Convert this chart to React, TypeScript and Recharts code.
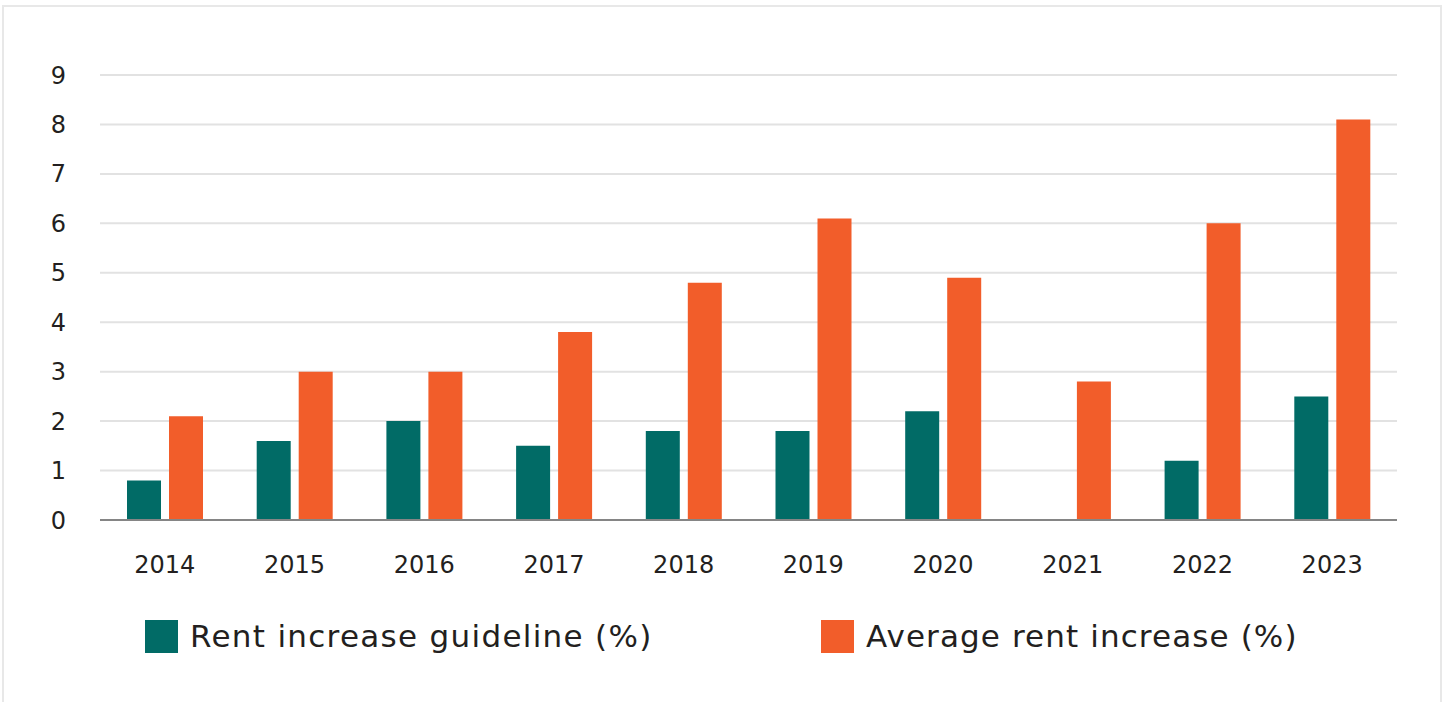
import React from "react";
import { BarChart, Bar, XAxis, YAxis, CartesianGrid, Legend } from "recharts";

// ================= Data =================
const years = ["2014", "2015", "2016", "2017", "2018", "2019", "2020", "2021", "2022", "2023"];
const guideline = [0.8, 1.6, 2.0, 1.5, 1.8, 1.8, 2.2, 0, 1.2, 2.5];
const averageIncrease = [2.1, 3.0, 3.0, 3.8, 4.8, 6.1, 4.9, 2.8, 6.0, 8.1];
const yTicks = [0, 1, 2, 3, 4, 5, 6, 7, 8, 9];

const TEAL = "#016b66";
const ORANGE = "#f25d2a";
const TEXT = "#231f20";
const FONT = "'DejaVu Sans', sans-serif";

const data = years.map((year, i) => ({
  year,
  guideline: guideline[i],
  average: averageIncrease[i],
}));

const legendItems = [
  { label: "Rent increase guideline (%)", color: TEAL, left: 141, spacing: 1.3 },
  { label: "Average rent increase (%)", color: ORANGE, left: 817, spacing: 1.1 },
];

const renderLegend = () => (
  <div style={{ position: "relative", height: 50, width: 1436 }}>
    {legendItems.map((item) => (
      <div
        key={item.label}
        style={{
          position: "absolute",
          left: item.left,
          top: 8,
          display: "flex",
          alignItems: "center",
        }}
      >
        <span style={{ width: 33, height: 33, background: item.color, display: "inline-block" }} />
        <span
          style={{
            marginLeft: 12,
            fontSize: 31,
            letterSpacing: item.spacing,
            color: TEXT,
            fontFamily: FONT,
            lineHeight: "33px",
            whiteSpace: "nowrap",
          }}
        >
          {item.label}
        </span>
      </div>
    ))}
  </div>
);

const App = () => {
  return (
    <div
      style={{
        position: "absolute",
        left: 2,
        top: 5,
        width: 1436,
        height: 720,
        border: "2px solid #e8e8e8",
        background: "#fff",
      }}
    >
      <BarChart
        width={1436}
        height={700}
        data={data}
        margin={{ top: 68, right: 43, left: 36, bottom: 77 }}
        barGap={8}
        barSize={34}
      >
        <CartesianGrid vertical={false} stroke="#e2e2e2" strokeWidth={2} />
        <XAxis
          dataKey="year"
          height={60}
          tickLine={false}
          axisLine={{ stroke: "#858585", strokeWidth: 2 }}
          tick={{ fill: TEXT, fontSize: 24, fontFamily: FONT }}
          tickMargin={30}
        />
        <YAxis
          width={60}
          domain={[0, 9]}
          ticks={yTicks}
          interval={0}
          axisLine={false}
          tickLine={false}
          tickMargin={28}
          tick={{ fill: TEXT, fontSize: 24, fontFamily: FONT }}
        />
        <Legend
          verticalAlign="bottom"
          height={50}
          content={renderLegend}
          wrapperStyle={{ left: 0, top: 605 }}
        />
        <Bar dataKey="guideline" fill={TEAL} isAnimationActive={false} />
        <Bar dataKey="average" fill={ORANGE} isAnimationActive={false} />
      </BarChart>
    </div>
  );
};

export default App;
